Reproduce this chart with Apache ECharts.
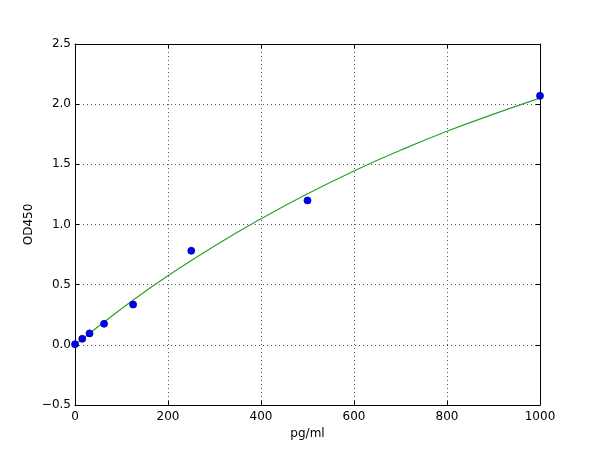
<!DOCTYPE html>
<html>
<head>
<meta charset="utf-8">
<script src="https://cdn.jsdelivr.net/npm/echarts@6/dist/echarts.min.js"></script>
<style>html,body{margin:0;padding:0;background:#fff}#c{width:600px;height:450px}</style>
</head>
<body>
<div id="c"></div>
<script>
var pointX = [0, 15.6, 31.25, 62.5, 125, 250, 500, 1000];
var pointY = [0.005, 0.05, 0.095, 0.175, 0.335, 0.782, 1.20, 2.07];
var curveX = [0, 50, 100, 150, 200, 300, 400, 500, 600, 700, 800, 900, 1000];
var curveY = [0.0, 0.152, 0.30, 0.441, 0.575, 0.822, 1.047, 1.255, 1.445, 1.617, 1.775, 1.917, 2.05];
var xTicks = [0, 200, 400, 600, 800, 1000];
var yTicks = [-0.5, 0.0, 0.5, 1.0, 1.5, 2.0, 2.5];

var font = 'DejaVu Sans';
function fmtY(v){ var s = v.toFixed(1); return s.replace('-', '\u2212'); }
function fmtX(v){ return String(Math.round(v)); }
var chart = echarts.init(document.getElementById('c'), null, {renderer:'canvas'});
var axisCommon = {
  axisLine:{show:true, onZero:false, lineStyle:{color:'#000', width:1}},
  axisTick:{show:true, inside:true, length:4, lineStyle:{color:'#000'}},
  splitLine:{show:false}
};
chart.setOption({
  animation:false,
  backgroundColor:'#fff',
  grid:{left:75, right:60, top:44, bottom:45, containLabel:false},
  xAxis:[
    Object.assign({type:'value', min:0, max:1000, interval:200, position:'bottom',
      name:'pg/ml', nameLocation:'middle', nameGap:22,
      nameTextStyle:{fontFamily:font, fontSize:12, color:'#000'},
      axisLabel:{fontFamily:font, fontSize:12, color:'#000', margin:6, formatter:fmtX},
      splitLine:{show:true, lineStyle:{color:'#555', type:[1,3], width:1}}
    }, {axisLine:axisCommon.axisLine, axisTick:axisCommon.axisTick}),
    Object.assign({type:'value', min:0, max:1000, interval:200, position:'top',
      axisLabel:{show:false}}, axisCommon)
  ],
  yAxis:[
    Object.assign({type:'value', min:-0.5, max:2.5, interval:0.5, position:'left',
      name:'OD450', nameLocation:'middle', nameGap:46, nameRotate:90, nameMoveOverlap:false,
      nameTextStyle:{fontFamily:font, fontSize:12, color:'#000', verticalAlign:'middle'},
      axisLabel:{fontFamily:font, fontSize:12, color:'#000', margin:4, formatter:fmtY},
      splitLine:{show:true, lineStyle:{color:'#555', type:[1,3], width:1}}
    }, {axisLine:axisCommon.axisLine, axisTick:axisCommon.axisTick}),
    Object.assign({type:'value', min:-0.5, max:2.5, interval:0.5, position:'right',
      axisLabel:{show:false}}, axisCommon)
  ],
  series:[
    {type:'line', data:curveX.map(function(x,i){return [x, curveY[i]];}),
     smooth:true, showSymbol:false, symbol:'none',
     lineStyle:{color:'#2ca02c', width:1.2}, itemStyle:{color:'#2ca02c'}, z:2, clip:true},
    {type:'scatter', data:pointX.map(function(x,i){return [x, pointY[i]];}),
     symbol:'circle', symbolSize:7,
     itemStyle:{color:'#0000ff', borderColor:'#00008b', borderWidth:0.8, opacity:1}, z:3, clip:true}
  ]
});
</script>
</body>
</html>
